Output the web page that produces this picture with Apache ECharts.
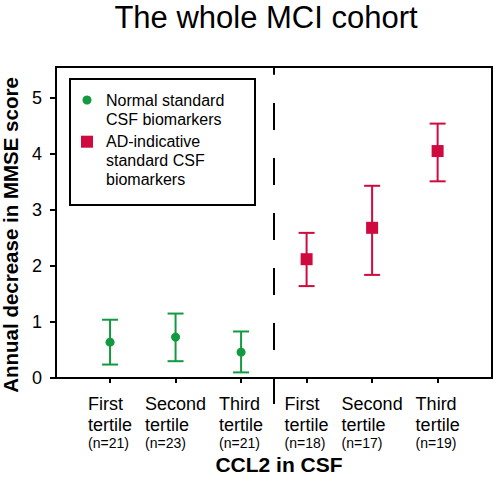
<!DOCTYPE html>
<html><head><meta charset="utf-8">
<script src="https://cdn.jsdelivr.net/npm/echarts@6/dist/echarts.min.js"></script>
<style>html,body{margin:0;padding:0;background:#fff}#c{width:498px;height:483px}</style>
</head><body><div id="c"></div>
<script>
// ---- data ----
const tertileNames = ['First', 'Second', 'Third', 'First', 'Second', 'Third'];
const groupSizes = ['n=21', 'n=23', 'n=21', 'n=18', 'n=17', 'n=19'];
const yTicks = [0, 1, 2, 3, 4, 5];
const normalX = [0, 1, 2];
const normalMean = [0.64, 0.73, 0.46];
const normalLow = [0.24, 0.30, 0.10];
const normalHigh = [1.04, 1.15, 0.83];
const adX = [3, 4, 5];
const adMean = [2.12, 2.68, 4.05];
const adLow = [1.64, 1.84, 3.51];
const adHigh = [2.59, 3.43, 4.54];
const dividerX = 2.5;
const legendNames = ['Normal standard\nCSF biomarkers', 'AD-indicative\nstandard CSF\nbiomarkers'];

const GREEN = '#139a41';
const RED = '#cf0a3e';
const FONT = 'Liberation Sans, Arial, sans-serif';
const xMin = -0.825, xMax = 5.83;
const yMax = 5.55;

function errorBarItem(color) {
  return function (params, api) {
    const x = api.value(0);
    const lo = api.coord([x, api.value(1)]);
    const hi = api.coord([x, api.value(2)]);
    const hw = 8;
    const style = { stroke: color, lineWidth: 2, fill: null };
    return { type: 'group', children: [
      { type: 'line', shape: { x1: lo[0], y1: lo[1], x2: hi[0], y2: hi[1] }, style: style },
      { type: 'line', shape: { x1: lo[0] - hw, y1: lo[1], x2: lo[0] + hw, y2: lo[1] }, style: style },
      { type: 'line', shape: { x1: hi[0] - hw, y1: hi[1], x2: hi[0] + hw, y2: hi[1] }, style: style }
    ] };
  };
}

const chart = echarts.init(document.getElementById('c'), null, { renderer: 'svg' });
chart.setOption({
  animation: false,
  backgroundColor: '#fff',
  textStyle: { fontFamily: FONT },
  title: {
    text: 'The whole MCI cohort', left: 266, top: 2, textAlign: 'center', padding: 0,
    textStyle: { fontSize: 31, fontWeight: 'normal', color: '#000', fontFamily: FONT }
  },
  grid: { left: 56, right: 6, top: 67, bottom: 105, outerBoundsMode: 'none', containLabel: false,
    show: true, borderColor: '#000', borderWidth: 2, backgroundColor: 'transparent' },
  xAxis: [{
    type: 'value', min: xMin, max: xMax,
    name: 'CCL2 in CSF', nameLocation: 'middle', nameGap: 76,
    nameTextStyle: { fontSize: 21, fontWeight: 'bold', color: '#000', fontFamily: FONT, padding: [0, 0, 0, 10] },
    axisLine: { show: true, onZero: false, lineStyle: { color: '#000', width: 2 } },
    axisTick: { show: true, customValues: tertileNames.map((v, i) => i), length: 5, lineStyle: { color: '#000', width: 2 } },
    splitLine: { show: false },
    axisLabel: {
      customValues: tertileNames.map((v, i) => i), margin: 15, color: '#000',
      formatter: function (v) {
        const i = Math.round(v);
        return '{a|' + tertileNames[i] + '}\n{a|tertile}\n{b|(' + groupSizes[i] + ')}';
      },
      rich: {
        a: { fontSize: 18, lineHeight: 21, align: 'left', color: '#000', fontFamily: FONT },
        b: { fontSize: 14, lineHeight: 15, align: 'left', color: '#000', fontFamily: FONT }
      }
    }
  }, {
    type: 'value', min: xMin, max: xMax, position: 'bottom', gridIndex: 0,
    axisLine: { show: false, onZero: false },
    axisTick: { show: true, customValues: [dividerX], length: 26, lineStyle: { color: '#000', width: 2 } },
    axisLabel: { show: false }, splitLine: { show: false }
  }],
  yAxis: {
    type: 'value', min: 0, max: yMax,
    name: 'Annual decrease in MMSE score', nameLocation: 'middle', nameRotate: 90, nameGap: 21,
    nameTextStyle: { fontSize: 20.5, fontWeight: 'bold', color: '#000', fontFamily: FONT, padding: [0, 25, 0, 0] },
    axisLine: { show: true, onZero: false, lineStyle: { color: '#000', width: 2 } },
    axisTick: { show: true, customValues: yTicks, length: 6, lineStyle: { color: '#000', width: 2 } },
    axisLabel: { customValues: yTicks, margin: 14, fontSize: 18, color: '#000', fontFamily: FONT },
    splitLine: { show: false }
  },
  series: [{
    type: 'custom', name: 'normal-err', renderItem: errorBarItem(GREEN),
    data: normalX.map((x, i) => [x, normalLow[i], normalHigh[i]]), encode: { x: 0, y: [1, 2] }, z: 2, silent: true
  }, {
    type: 'custom', name: 'ad-err', renderItem: errorBarItem(RED),
    data: adX.map((x, i) => [x, adLow[i], adHigh[i]]), encode: { x: 0, y: [1, 2] }, z: 2, silent: true
  }, {
    type: 'scatter', name: legendNames[0], symbol: 'circle', symbolSize: 9,
    itemStyle: { color: GREEN, opacity: 1 }, z: 3,
    data: normalX.map((x, i) => [x, normalMean[i]])
  }, {
    type: 'scatter', name: legendNames[1], symbol: 'rect', symbolSize: 12,
    itemStyle: { color: RED, opacity: 1 }, z: 3,
    data: adX.map((x, i) => [x, adMean[i]]),
    markLine: {
      silent: true, symbol: 'none', label: { show: false },
      lineStyle: { color: '#000', width: 2, type: [27, 28], cap: 'butt' },
      data: [
        [{ coord: [dividerX, 0.5] }, { coord: [dividerX, 4.9075] }],
        [{ coord: [dividerX, 5.41] }, { coord: [dividerX, yMax] }]
      ]
    }
  }],
  graphic: [{
    type: 'group', children: [
      { type: 'rect', shape: { x: 70, y: 79, width: 185, height: 126 }, style: { fill: '#fff', stroke: '#000', lineWidth: 2 } },
      { type: 'circle', shape: { cx: 87, cy: 100, r: 4.5 }, style: { fill: GREEN } },
      { type: 'rect', shape: { x: 81, y: 135.7, width: 12, height: 12 }, style: { fill: RED } },
      { type: 'text', x: 106, y: 90.5, style: { text: legendNames[0], fontSize: 16, lineHeight: 19, fill: '#000', fontFamily: FONT, verticalAlign: 'top', align: 'left' } },
      { type: 'text', x: 106, y: 132, style: { text: legendNames[1], fontSize: 16, lineHeight: 19, fill: '#000', fontFamily: FONT, verticalAlign: 'top', align: 'left' } }
    ]
  }]
});
</script>
</body></html>
